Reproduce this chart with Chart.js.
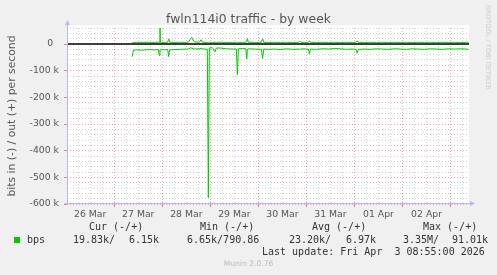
<!DOCTYPE html>
<html>
<head>
<meta charset="utf-8">
<script src="https://cdn.jsdelivr.net/npm/chart.js@4/dist/chart.umd.min.js"></script>
<style>
    body { margin: 0; background: #f0f0f0; }
    #wrap { position: relative; width: 497px; height: 275px; overflow: hidden; }
    #wrap canvas { position: absolute; left: 0; top: 0; }
    .t { position: absolute; white-space: pre; line-height: 12px; height: 12px; }
    .mono { font-family: 'DejaVu Sans Mono', monospace; font-size: 10px; color: #333; }
    .title { left: 0; width: 497px; top: 12px; text-align: center; font-family: 'DejaVu Sans', sans-serif; font-size: 12.4px; line-height: 14px; color: #555; }
    .side { left: 492px; top: 5px; transform-origin: 0 0; transform: rotate(90deg); font-family: 'DejaVu Sans', sans-serif; font-size: 6.6px; color: #ccc; line-height: 8px; }
    .munin { left: 0; width: 497px; top: 258px; text-align: center; font-family: 'DejaVu Sans', sans-serif; font-size: 7.6px; color: #bbb; }
    .swatch { position: absolute; left: 14px; top: 237px; width: 6px; height: 6px; background: #00cc00; }
</style>
</head>
<body>
<div id="wrap">
    <canvas id="myChart" width="497" height="275"></canvas>
    <div class="t title">fwln114i0 traffic - by week</div>
    <div class="t side">RRDTOOL / TOBI OETIKER</div>
    <div class="t mono" style="left:89px;top:221px">Cur (-/+)</div>
    <div class="t mono" style="left:200px;top:221px">Min (-/+)</div>
    <div class="t mono" style="left:312px;top:221px">Avg (-/+)</div>
    <div class="t mono" style="left:423px;top:221px">Max (-/+)</div>
    <div class="swatch"></div>
    <div class="t mono" style="left:27px;top:234px">bps</div>
    <div class="t mono" style="left:73px;top:234px">19.83k/</div>
    <div class="t mono" style="left:129px;top:234px">6.15k</div>
    <div class="t mono" style="left:187px;top:234px">6.65k/790.86</div>
    <div class="t mono" style="left:289px;top:234px">23.20k/</div>
    <div class="t mono" style="left:346px;top:234px">6.97k</div>
    <div class="t mono" style="left:403px;top:234px">3.35M/</div>
    <div class="t mono" style="left:452px;top:234px">91.01k</div>
    <div class="t mono" style="left:262px;top:246px">Last update: Fri Apr  3 08:55:00 2026</div>
    <div class="t munin">Munin 2.0.76</div>
</div>
<script>
// hours counted from 26 Mar 00:00, values in kbit/s
const hours = [
    33, 33.5, 35, 38, 41, 44, 46, 46.5, 46.85, 47, 47.6, 49, 50.7, 51.2, 51.7,
    54, 57, 60, 61, 62.2, 62.7, 64, 66.5, 67.35, 68, 70.5, 71, 71.5, 73, 74.35,
    75, 77, 80, 83, 85, 85.5, 86, 88, 89.7, 90.2, 90.5, 91, 94, 97.5, 98.1,
    98.7, 101, 104, 107, 110, 113, 116, 116.6, 117.2, 119, 121, 121.5, 122, 125,
    128, 131, 134, 137, 140, 143, 144.8, 145.35, 145.9, 149, 152, 155, 158, 161,
    164, 167, 170, 173, 176, 179, 182, 185, 188, 191, 194, 197, 200, 201
];
const outKbps = [
    5.5, 6, 6.5, 6, 6.5, 6, 6.5, 6.5, 91, 6.5, 6.5, 6, 6.5, 19, 6.5,
    6, 6.5, 6, 7, 20, 25, 8, 6.5, 16, 6.5, 6, 6.5, 6.5, 6, 6.5,
    6, 6.5, 6, 6, 6.5, 6.5, 6, 6.5, 6.5, 8, 20, 6.5, 6, 6.5, 19,
    6.5, 6, 6.5, 6, 6.5, 6, 6.5, 11, 6.5, 6, 6.5, 12, 6.5, 6,
    6.5, 6, 6.5, 6, 6.5, 6, 6.5, 12, 6.5, 6, 6.5, 6, 6.5, 6,
    6.5, 6, 6.5, 6, 6.5, 6, 6.5, 6, 6.5, 6, 6.5, 6, 6.5, 6.15
];
const inKbps = [
    -47, -24, -22, -23, -21, -22, -21, -43, -22, -21, -22, -21, -21, -47, -22,
    -21, -20, -19, -19, -14, -16, -19, -18, -17, -18, -20, -576, -15, -14, -29,
    -15, -15, -18, -19, -19, -115, -18, -17, -18, -56, -20, -18, -19, -20, -54,
    -19, -20, -19, -21, -18, -20, -19, -20, -19, -18, -20, -38, -19, -20,
    -18, -19, -17, -18, -20, -19, -20, -35, -20, -19, -20, -18, -19, -20,
    -18, -19, -20, -18, -19, -20, -18, -19, -20, -18, -19, -18, -19, -19.83
];
const dayLabels = ['26 Mar', '27 Mar', '28 Mar', '29 Mar', '30 Mar', '31 Mar', '01 Apr', '02 Apr'];
const zeroRule = [0, 0];

const xStart = 0.4;
const xEnd = 201.2;
const yBottom = -600;
const yTop = 60;

document.addEventListener('DOMContentLoaded', function () {
    const canvas = document.getElementById('myChart');
    const ctx = canvas.getContext('2d');

    const majorColor = 'rgba(235, 140, 140, 0.75)';
    const minorColor = 'rgba(190, 190, 190, 0.7)';
    const axisColor = '#b8b8f0';

    const rrdFrame = {
        id: 'rrdFrame',
        beforeDraw(chart) {
            const a = chart.chartArea;
            const c = chart.ctx;
            c.save();
            c.fillStyle = '#ffffff';
            c.fillRect(a.left, a.top - 3, a.right - a.left, a.bottom - a.top + 3);
            c.restore();
        },
        afterDraw(chart) {
            const a = chart.chartArea;
            const c = chart.ctx;
            const x0 = Math.round(a.left) + 0.5;
            const y0 = Math.round(a.bottom) - 0.5;
            c.save();
            c.strokeStyle = axisColor;
            c.fillStyle = axisColor;
            c.lineWidth = 1;
            c.beginPath();
            c.moveTo(x0, y0);
            c.lineTo(x0, a.top - 4);
            c.moveTo(x0 - 3, y0);
            c.lineTo(a.right + 2, y0);
            c.stroke();
            c.beginPath();
            c.moveTo(x0 - 2.5, a.top - 3);
            c.lineTo(x0, a.top - 8);
            c.lineTo(x0 + 2.5, a.top - 3);
            c.fill();
            c.beginPath();
            c.moveTo(a.right + 1, y0 - 2.5);
            c.lineTo(a.right + 6, y0);
            c.lineTo(a.right + 1, y0 + 2.5);
            c.fill();
            c.restore();
        }
    };

    new Chart(ctx, {
        type: 'line',
        data: {
            datasets: [
                {
                    label: 'bps out',
                    data: hours.map((h, i) => ({ x: h, y: outKbps[i] })),
                    borderColor: '#00cc00',
                    borderWidth: 1,
                    pointRadius: 0,
                    tension: 0,
                    order: 0
                },
                {
                    label: 'bps in',
                    data: hours.map((h, i) => ({ x: h, y: inKbps[i] })),
                    borderColor: '#00cc00',
                    borderWidth: 1,
                    pointRadius: 0,
                    tension: 0,
                    order: 1
                },
                {
                    label: 'zero',
                    data: [{ x: xStart, y: zeroRule[0] }, { x: xEnd, y: zeroRule[1] }],
                    borderColor: '#000000',
                    borderWidth: 1.6,
                    pointRadius: 0,
                    order: 2
                }
            ]
        },
        options: {
            responsive: false,
            animation: false,
            events: [],
            layout: {
                padding: { left: 0, top: 28, right: 28, bottom: 51 }
            },
            plugins: {
                legend: { display: false },
                tooltip: { enabled: false }
            },
            scales: {
                x: {
                    type: 'linear',
                    min: xStart,
                    max: xEnd,
                    afterBuildTicks: function (scale) {
                        scale.ticks = [];
                        for (let h = 6; h < xEnd; h += 6) {
                            scale.ticks.push({ value: h });
                        }
                    },
                    afterFit: function (scale) {
                        scale.height = 20;
                    },
                    ticks: {
                        autoSkip: false,
                        maxRotation: 0,
                        padding: 2,
                        color: '#555',
                        font: { family: 'DejaVu Sans', size: 9.3 },
                        callback: function (value) {
                            return value % 24 === 12 ? dayLabels[Math.floor(value / 24)] : '';
                        }
                    },
                    grid: {
                        lineWidth: 1,
                        tickLength: 3,
                        color: function (c) {
                            return c.tick && c.tick.value % 24 === 0 ? majorColor : minorColor;
                        },
                        tickColor: function (c) {
                            return c.tick && c.tick.value % 24 === 0 ? '#f08080' : 'rgba(0,0,0,0)';
                        }
                    },
                    border: { display: false, dash: [1, 2] }
                },
                y: {
                    min: yBottom,
                    max: yTop,
                    afterBuildTicks: function (scale) {
                        scale.ticks = [];
                        for (let v = yBottom; v <= yTop; v += 20) {
                            scale.ticks.push({ value: v });
                        }
                    },
                    afterFit: function (scale) {
                        scale.width = 67;
                    },
                    ticks: {
                        autoSkip: false,
                        padding: 5,
                        color: '#555',
                        font: { family: 'DejaVu Sans', size: 9.3 },
                        callback: function (value) {
                            if (value % 100 !== 0) {
                                return '';
                            }
                            return value === 0 ? '0  ' : value + ' k';
                        }
                    },
                    grid: {
                        lineWidth: 1,
                        tickLength: 3,
                        color: function (c) {
                            return c.tick && c.tick.value % 100 === 0 ? majorColor : minorColor;
                        },
                        tickColor: function (c) {
                            return c.tick && c.tick.value % 100 === 0 ? '#f08080' : 'rgba(0,0,0,0)';
                        }
                    },
                    border: { display: false, dash: [1, 2] },
                    title: {
                        display: true,
                        text: 'bits in (-) / out (+) per second',
                        color: '#555',
                        font: { family: 'DejaVu Sans', size: 10.8, lineHeight: 1 },
                        padding: { top: 7, bottom: 0 }
                    }
                }
            }
        },
        plugins: [rrdFrame]
    });
});
</script>
</body>
</html>
